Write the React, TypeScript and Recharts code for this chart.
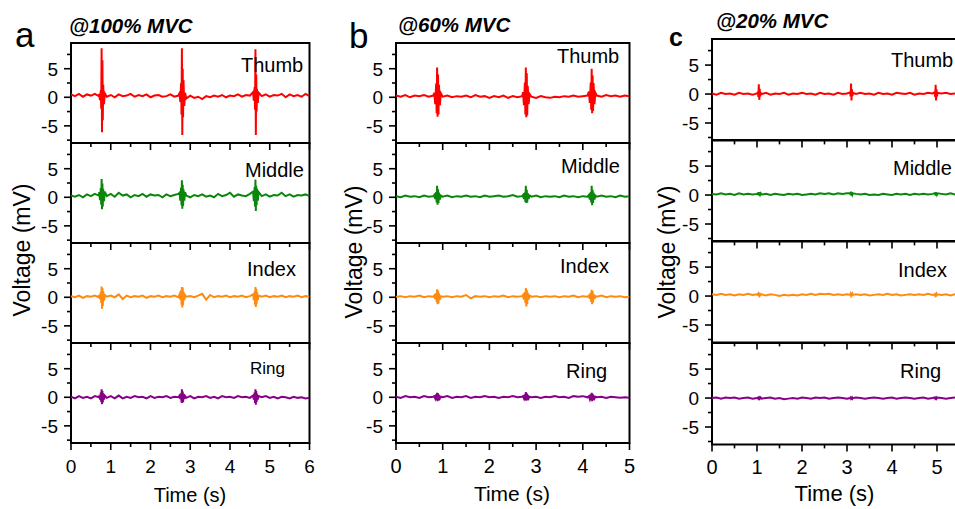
import { Line, LineChart, ReferenceArea, XAxis, YAxis } from "recharts";

// time grids (s), one per panel; denser around each contraction burst
const timeA = [
  0, 0.1, 0.2, 0.3, 0.4, 0.5, 0.6, 0.7,
  0.71, 0.73, 0.75, 0.76, 0.77, 0.78, 0.79, 0.8, 0.81, 0.83, 0.85,
  0.9, 1.0, 1.1, 1.2, 1.3, 1.4, 1.5, 1.6, 1.7, 1.8, 1.9, 2.0, 2.1, 2.2, 2.3, 2.4, 2.5, 2.6, 2.7,
  2.73, 2.75, 2.77, 2.78, 2.79, 2.8, 2.81, 2.82, 2.83, 2.85, 2.87,
  2.9, 3.0, 3.1, 3.2, 3.3, 3.4, 3.5, 3.6, 3.7, 3.8, 3.9, 4.0, 4.1, 4.2, 4.3, 4.4, 4.5,
  4.58, 4.6, 4.62, 4.63, 4.64, 4.65, 4.66, 4.67, 4.68, 4.7, 4.72,
  4.8, 4.9, 5.0, 5.1, 5.2, 5.3, 5.4, 5.5, 5.6, 5.7, 5.8, 5.9, 6.0
];
const timeB = [
  0, 0.1, 0.2, 0.3, 0.4, 0.5, 0.6, 0.7, 0.8,
  0.82, 0.84, 0.86, 0.87, 0.88, 0.89, 0.9, 0.91, 0.92, 0.94, 0.96,
  1.0, 1.1, 1.2, 1.3, 1.4, 1.5, 1.6, 1.7, 1.8, 1.9, 2.0, 2.1, 2.2, 2.3, 2.4, 2.5, 2.6, 2.7,
  2.72, 2.74, 2.76, 2.77, 2.78, 2.79, 2.8, 2.81, 2.82, 2.84, 2.86,
  2.9, 3.0, 3.1, 3.2, 3.3, 3.4, 3.5, 3.6, 3.7, 3.8, 3.9, 4.0, 4.1,
  4.13, 4.15, 4.17, 4.18, 4.19, 4.2, 4.21, 4.22, 4.23, 4.25, 4.27,
  4.3, 4.4, 4.5, 4.6, 4.7, 4.8, 4.9, 5.0
];
const timeC = [
  0, 0.1, 0.2, 0.3, 0.4, 0.5, 0.6, 0.7, 0.8, 0.9, 1.0,
  1.02, 1.03, 1.04, 1.05, 1.06, 1.07, 1.08,
  1.1, 1.2, 1.3, 1.4, 1.5, 1.6, 1.7, 1.8, 1.9, 2.0, 2.1, 2.2, 2.3, 2.4, 2.5, 2.6, 2.7, 2.8, 2.9, 3.0,
  3.07, 3.08, 3.09, 3.1, 3.11, 3.12, 3.13,
  3.2, 3.3, 3.4, 3.5, 3.6, 3.7, 3.8, 3.9, 4.0, 4.1, 4.2, 4.3, 4.4, 4.5, 4.6, 4.7, 4.8, 4.9,
  4.95, 4.96, 4.97, 4.98, 4.99, 5.0, 5.01,
  5.1, 5.2, 5.3, 5.4, 5.5, 5.6, 5.7, 5.8, 5.9, 6.0
];

// voltages (mV) @100% MVC
const thumbA = [
  0.5, 0.2, 0.6, 0.1, 0.5, 0.3, 0.6, 0.2,
  0.6, -0.5, 1.2, -2.0, 8.6, -6.1, 6.5, -4.0, 2.2, -1.2, 0.7,
  0.1, 0.4, 0.0, 0.5, 0.2, 0.3, 0.6, 0.1, 0.4, 0.2, 0.5, 0.0, 0.3, 0.4, 0.1, 0.2, 0.5, 0.1, 0.3,
  0.7, -0.8, 2.5, -3.0, 8.6, -6.6, 5.0, -3.5, 3.0, -1.5, 0.8,
  -0.2, 0.3, -0.1, 0.1, -0.3, 0.2, 0.0, 0.3, 0.1, 0.4, 0.0, 0.3, 0.2, 0.5, 0.1, 0.4, 0.3,
  0.9, -0.6, 1.8, -2.2, 8.4, -6.6, 4.0, -2.5, 1.5, -1.0, 0.8,
  0.2, 0.5, 0.1, 0.4, 0.3, 0.6, 0.0, 0.5, 0.2, 0.4, 0.1, 0.6, 0.2
];
const middleA = [
  0.3, 0.1, 0.4, 0.0, 0.5, 0.2, 0.6, 0.3,
  0.9, -0.5, 1.6, -1.3, 3.2, -2.1, 2.4, -1.6, 1.5, -0.7, 1.0,
  0.2, 0.6, 0.1, 0.8, 0.3, 0.5, 0.0, 0.4, 0.2, 0.6, 0.1, 0.5, 0.3, 0.4, 0.0, 0.5, 0.2, 0.4, 0.6,
  0.8, -0.6, 1.7, -1.4, 3.0, -2.0, 2.2, -1.5, 1.4, -0.6, 0.9,
  0.3, 0.0, 0.4, 0.2, 0.5, 0.1, 0.3, 0.0, 0.6, 0.2, 0.4, 0.8, 0.1, 0.5, 0.3, 0.2, 0.6,
  1.0, -0.7, 1.8, -1.6, 3.1, -2.4, 2.0, -1.4, 1.5, -0.6, 0.9,
  0.2, 0.5, 0.1, 0.4, 0.3, 0.8, 0.2, 0.5, 0.1, 0.4, 0.3, 0.5, 0.2
];
const indexA = [
  0.2, 0.0, 0.3, -0.1, 0.2, 0.1, 0.3, 0.0,
  0.4, -0.3, 0.9, -1.0, 1.9, -2.0, 1.6, -1.5, 1.1, -0.6, 0.4,
  0.1, 0.3, 0.0, 0.5, -0.3, 0.3, 0.0, 0.2, 0.1, 0.3, -0.1, 0.2, 0.1, 0.3, 0.0, 0.2, 0.1, 0.3, 0.0,
  0.5, -0.4, 1.2, -1.3, 1.8, -1.8, 1.7, -1.4, 1.0, -0.5, 0.4,
  0.1, 0.2, 0.0, 0.3, 0.6, -0.4, 0.4, 0.0, 0.2, 0.1, 0.3, 0.0, 0.2, 0.1, 0.3, 0.0, 0.2,
  0.5, -0.5, 1.0, -1.3, 1.8, -1.7, 1.5, -1.2, 0.9, -0.5, 0.3,
  0.1, 0.3, 0.0, 0.2, 0.1, 0.3, 0.0, 0.2, 0.1, 0.3, 0.0, 0.2, 0.1
];
const ringA = [
  0.1, -0.2, 0.2, -0.1, 0.1, -0.2, 0.2, 0.0,
  0.3, -0.4, 0.8, -0.8, 1.4, -1.2, 1.1, -0.9, 0.7, -0.4, 0.3,
  -0.1, 0.2, -0.2, 0.3, -0.2, 0.1, -0.1, 0.2, 0.0, 0.1, -0.2, 0.2, -0.1, 0.1, 0.0, 0.2, -0.1, 0.1, 0.0,
  0.3, -0.3, 0.7, -0.9, 1.4, -1.0, 1.0, -0.8, 0.6, -0.3, 0.2,
  -0.1, 0.2, -0.2, 0.1, 0.0, 0.2, -0.1, 0.1, -0.2, 0.2, 0.0, 0.1, -0.1, 0.2, 0.0, 0.1, -0.1,
  0.3, -0.4, 0.8, -1.0, 1.4, -1.3, 1.1, -0.8, 0.6, -0.4, 0.2,
  0.0, 0.2, -0.1, 0.1, -0.2, 0.1, 0.0, -0.2, 0.1, -0.1, 0.0, -0.2, -0.1
];

// voltages (mV) @60% MVC
const thumbB = [
  0.3, 0.1, 0.4, 0.0, 0.3, 0.2, 0.4, 0.1, 0.3,
  0.8, -1.2, 2.4, -2.8, 5.2, -3.4, 4.0, -3.0, 2.2, -1.4, 0.7,
  0.1, 0.3, 0.0, 0.2, 0.1, 0.3, 0.0, 0.4, 0.1, 0.2, -0.1, 0.2, 0.0, 0.3, -0.1, 0.2, 0.0, 0.2,
  0.9, -1.4, 2.6, -3.0, 5.2, -3.5, 4.2, -3.2, 2.0, -1.2, 0.6,
  0.1, -0.1, 0.2, 0.0, -0.1, 0.1, 0.0, 0.2, 0.1, 0.3, 0.1, 0.2, 0.3,
  1.0, -1.0, 2.6, -2.2, 5.0, -2.8, 3.8, -2.4, 2.5, -1.2, 0.8,
  0.3, 0.1, 0.4, 0.2, 0.3, 0.1, 0.3, 0.2
];
const middleB = [
  0.2, 0.0, 0.3, 0.1, 0.2, 0.0, 0.3, 0.1, 0.2,
  0.4, -0.3, 0.9, -0.9, 2.0, -1.3, 1.4, -1.0, 0.8, -0.4, 0.3,
  0.1, 0.3, 0.0, 0.2, 0.1, 0.3, 0.1, 0.2, 0.0, 0.3, 0.1, 0.2, 0.3, 0.1, 0.2, 0.4, 0.1, 0.2,
  0.4, -0.3, 0.8, -0.8, 2.0, -1.0, 1.3, -0.9, 0.7, -0.3, 0.3,
  0.1, 0.3, 0.0, 0.2, 0.1, 0.2, 0.0, 0.3, 0.1, 0.2, 0.0, 0.2, 0.1,
  0.4, -0.4, 0.9, -0.9, 2.0, -1.4, 1.3, -1.0, 0.8, -0.4, 0.3,
  0.1, 0.3, 0.1, 0.2, 0.0, 0.3, 0.1, 0.2
];
const indexB = [
  0.1, 0.2, 0.0, 0.2, 0.1, 0.3, 0.0, 0.2, 0.1,
  0.3, -0.3, 0.7, -0.8, 1.4, -1.2, 1.2, -1.1, 0.7, -0.4, 0.2,
  0.1, 0.2, 0.0, 0.2, 0.1, 0.4, -0.2, 0.2, 0.1, 0.2, 0.0, 0.2, 0.1, 0.3, 0.0, 0.2, 0.1, 0.2,
  0.4, -0.4, 0.9, -1.0, 1.6, -1.6, 1.3, -1.2, 0.8, -0.4, 0.3,
  0.1, 0.2, 0.0, 0.2, 0.1, 0.2, 0.0, 0.2, 0.1, 0.3, 0.0, 0.2, 0.1,
  0.3, -0.3, 0.8, -0.8, 1.3, -1.2, 1.1, -0.9, 0.6, -0.3, 0.2,
  0.1, 0.3, 0.0, 0.2, 0.1, 0.2, 0.0, 0.1
];
const ringB = [
  0.1, -0.1, 0.2, 0.0, 0.1, -0.1, 0.2, 0.0, 0.1,
  0.2, -0.2, 0.5, -0.5, 0.8, -0.7, 0.7, -0.5, 0.4, -0.2, 0.1,
  0.0, 0.2, -0.1, 0.1, 0.0, 0.2, -0.1, 0.1, 0.0, 0.2, 0.0, 0.1, -0.1, 0.1, 0.0, 0.2, 0.0, 0.1,
  0.2, -0.2, 0.5, -0.5, 0.9, -0.6, 0.7, -0.5, 0.4, -0.2, 0.1,
  0.0, 0.1, -0.1, 0.1, 0.0, 0.2, 0.0, 0.1, -0.1, 0.2, 0.1, 0.2, 0.0,
  0.2, -0.3, 0.5, -0.5, 0.8, -0.7, 0.6, -0.5, 0.3, -0.2, 0.1,
  0.0, 0.1, -0.1, 0.1, 0.0, -0.1, 0.0, -0.1
];

// voltages (mV) @20% MVC
const thumbC = [
  0.1, -0.1, 0.2, 0.0, 0.1, -0.1, 0.2, 0.0, 0.1, -0.1, 0.1,
  0.3, -0.5, 1.7, -1.0, 0.9, -0.4, 0.2,
  0.0, 0.2, -0.1, 0.1, 0.0, 0.2, -0.1, 0.1, 0.0, 0.2, 0.0, 0.1, -0.1, 0.2, 0.0, 0.1, -0.1, 0.2, 0.0, 0.1,
  0.3, -0.4, 1.8, -1.1, 0.8, -0.3, 0.2,
  0.0, 0.2, 0.0, 0.1, -0.1, 0.2, 0.0, 0.1, -0.1, 0.2, 0.1, 0.0, 0.2, -0.1, 0.1, 0.0, 0.2, 0.1,
  0.3, -0.5, 1.6, -1.1, 0.8, -0.4, 0.2,
  0.1, 0.2, 0.0, 0.1, -0.1, 0.2, 0.0, 0.1, 0.0, 0.2
];
const middleC = [
  0.2, 0.1, 0.3, 0.1, 0.2, 0.0, 0.3, 0.1, 0.2, 0.1, 0.2,
  0.3, 0.0, 0.5, -0.1, 0.4, 0.1, 0.3,
  0.1, 0.2, 0.0, 0.2, 0.1, 0.0, 0.2, 0.1, 0.2, 0.0, 0.1, 0.2, 0.1, 0.3, 0.2, 0.3, 0.1, 0.3, 0.2, 0.3,
  0.3, 0.0, 0.6, -0.1, 0.5, 0.1, 0.3,
  0.2, 0.1, 0.2, 0.0, 0.1, 0.0, 0.2, 0.1, 0.0, 0.2, 0.1, 0.2, 0.0, 0.2, 0.1, 0.2, 0.1, 0.2,
  0.3, 0.0, 0.5, -0.1, 0.4, 0.1, 0.3,
  0.2, 0.1, 0.3, 0.1, 0.2, 0.1, 0.3, 0.2, 0.1, 0.2
];
const indexC = [
  0.3, 0.2, 0.4, 0.2, 0.3, 0.1, 0.3, 0.2, 0.4, 0.2, 0.3,
  0.2, 0.4, 0.2, 0.3, 0.1, 0.3, 0.2,
  0.3, 0.1, 0.3, 0.2, 0.0, 0.2, 0.1, 0.2, 0.1, 0.3, 0.2, 0.4, 0.2, 0.4, 0.3, 0.4, 0.2, 0.3, 0.2, 0.3,
  0.2, 0.4, 0.1, 0.3, 0.2, 0.4, 0.2,
  0.3, 0.2, 0.3, 0.1, 0.2, 0.3, 0.2, 0.4, 0.2, 0.3, 0.1, 0.2, 0.3, 0.2, 0.3, 0.2, 0.4, 0.2,
  0.3, 0.1, 0.3, 0.2, 0.4, 0.2, 0.3,
  0.2, 0.3, 0.1, 0.3, 0.2, 0.3, 0.1, 0.2, 0.3, 0.2
];
const ringC = [
  0.0, 0.1, -0.1, 0.1, 0.0, 0.1, -0.1, 0.0, 0.1, -0.1, 0.0,
  0.1, -0.1, 0.0, 0.1, -0.1, 0.0, 0.1,
  -0.1, 0.0, 0.1, -0.1, 0.0, -0.2, -0.1, 0.0, -0.1, 0.1, 0.0, -0.1, 0.1, 0.0, 0.1, -0.1, 0.0, 0.1, 0.0, -0.1,
  0.0, 0.1, -0.1, 0.0, 0.1, -0.1, 0.0,
  0.1, 0.0, -0.1, 0.0, 0.1, 0.0, -0.1, 0.0, 0.1, -0.1, 0.0, 0.1, 0.0, -0.1, 0.0, 0.1, -0.1, 0.0,
  0.1, -0.1, 0.0, 0.1, -0.1, 0.0, 0.1,
  0.0, -0.1, 0.0, 0.1, -0.1, 0.0, -0.1, 0.0, -0.1, -0.2
];

const fingers = ["Thumb", "Middle", "Index", "Ring"];
const fingerColors = ["#ff0000", "#0a870a", "#ff8a10", "#880088"];
const titles = ["@100% MVC", "@60% MVC", "@20% MVC"];
const letters = ["a", "b", "c"];
const yTicks = [-7.5, -5, -2.5, 0, 2.5, 5, 7.5];
const xTicksA = [0, 0.5, 1, 1.5, 2, 2.5, 3, 3.5, 4, 4.5, 5, 5.5, 6];
const xTicksB = [0, 0.5, 1, 1.5, 2, 2.5, 3, 3.5, 4, 4.5, 5];
const xTicksC = [0, 0.5, 1, 1.5, 2, 2.5, 3, 3.5, 4, 4.5, 5, 5.5];
const Y_DOMAIN: [number, number] = [-8, 9.5];

const FONT = "'Liberation Sans', Arial, sans-serif";
const Y_W = 60;
const PAD = 2;
const R_PAD = 14;

const panels = [
  {
    time: timeA, series: [thumbA, middleA, indexA, ringA], xMax: 6, xTicks: xTicksA,
    left: 71, top: 43, plotWidth: 238.5, plotHeight: 100, xTickFont: 19, timeFont: 20,
    letter: { x: 15, y: 47, size: 35, weight: 400 }, title: { x: 69, y: 32.5 },
    voltX: 29.5, voltY: 250, timeX: 190, timeY: 502,
    labels: [[241, 72.3, 20], [245, 177, 20], [247, 276, 20], [250, 374, 17]]
  },
  {
    time: timeB, series: [thumbB, middleB, indexB, ringB], xMax: 5, xTicks: xTicksB,
    left: 396, top: 43, plotWidth: 233.5, plotHeight: 100, xTickFont: 20, timeFont: 21,
    letter: { x: 349, y: 48, size: 35, weight: 400 }, title: { x: 398, y: 31.5 },
    voltX: 361.5, voltY: 252, timeX: 512, timeY: 501,
    labels: [[557, 63.3, 20], [561, 173, 20], [560, 273, 20], [566, 377.7, 20]]
  },
  {
    time: timeC, series: [thumbC, middleC, indexC, ringC], xMax: 6, xTicks: xTicksC,
    left: 712, top: 38.5, plotWidth: 270, plotHeight: 101.4, xTickFont: 20, timeFont: 22,
    letter: { x: 669, y: 46, size: 25, weight: 700 }, title: { x: 716, y: 28 },
    voltX: 674.5, voltY: 252, timeX: 834.5, timeY: 501,
    labels: [[891, 66.5, 20], [893, 175, 20], [898, 276.5, 20], [900, 378, 20]]
  }
];

function XTick(props: any) {
  const { x, y, payload, showLabel, fontSize } = props;
  const v = payload.value as number;
  const major = Number.isInteger(v);
  return (
    <g>
      <line x1={x} y1={y} x2={x} y2={y + (major ? 7 : 4)} stroke="#000" strokeWidth={1.6} />
      {showLabel && major ? (
        <text x={x} y={y + 30} textAnchor="middle" fontSize={fontSize} fontFamily={FONT} fill="#000">
          {v}
        </text>
      ) : null}
    </g>
  );
}

function YTick(props: any) {
  const { x, y, payload } = props;
  const v = payload.value as number;
  const major = v % 5 === 0;
  return (
    <g>
      <line x1={x - (major ? 7 : 4)} y1={y} x2={x} y2={y} stroke="#000" strokeWidth={1.6} />
      {major ? (
        <text x={x - 13} y={y} dy="0.36em" textAnchor="end" fontSize={19} fontFamily={FONT} fill="#000">
          {v}
        </text>
      ) : null}
    </g>
  );
}

type SubplotProps = {
  time: number[];
  values: number[];
  color: string;
  left: number;
  top: number;
  plotWidth: number;
  plotHeight: number;
  xMax: number;
  xTicks: number[];
  showLabels: boolean;
  xTickFont: number;
};

function Subplot({ time, values, color, left, top, plotWidth, plotHeight, xMax, xTicks, showLabels, xTickFont }: SubplotProps) {
  const data = time.map((t, i) => ({ t, v: values[i] }));
  const axisH = showLabels ? 40 : 10;
  return (
    <div style={{ position: "absolute", left: left - Y_W, top: top - PAD }}>
      <LineChart
        width={Y_W + plotWidth + R_PAD}
        height={PAD + plotHeight + axisH}
        data={data}
        margin={{ top: PAD, right: R_PAD, bottom: 0, left: 0 }}
      >
        <XAxis
          dataKey="t"
          type="number"
          domain={[0, xMax]}
          ticks={xTicks}
          interval={0}
          height={axisH}
          axisLine={false}
          tickLine={false}
          tickSize={0}
          tickMargin={0}
          allowDataOverflow
          tick={(p: any) => <XTick {...p} showLabel={showLabels} fontSize={xTickFont} />}
        />
        <YAxis
          type="number"
          domain={Y_DOMAIN}
          ticks={yTicks}
          interval={0}
          width={Y_W}
          axisLine={false}
          tickLine={false}
          tickSize={0}
          tickMargin={0}
          allowDataOverflow
          tick={(p: any) => <YTick {...p} />}
        />
        <ReferenceArea x1={0} x2={xMax} y1={Y_DOMAIN[0]} y2={Y_DOMAIN[1]} fill="none" fillOpacity={0} stroke="#000" strokeWidth={2} />
        <Line dataKey="v" stroke={color} strokeWidth={2} dot={false} isAnimationActive={false} />
      </LineChart>
    </div>
  );
}

export default function App() {
  return (
    <div
      style={{
        position: "absolute",
        left: 0,
        top: 0,
        width: 955,
        height: 509,
        overflow: "hidden",
        background: "#fff",
        fontFamily: FONT
      }}
    >
      {panels.map((p, pi) =>
        p.series.map((values, si) => (
          <Subplot
            key={`${pi}-${si}`}
            time={p.time}
            values={values}
            color={fingerColors[si]}
            left={p.left}
            top={p.top + si * p.plotHeight}
            plotWidth={p.plotWidth}
            plotHeight={p.plotHeight}
            xMax={p.xMax}
            xTicks={p.xTicks}
            showLabels={si === 3}
            xTickFont={p.xTickFont}
          />
        ))
      )}
      <svg width={955} height={509} style={{ position: "absolute", left: 0, top: 0, pointerEvents: "none" }}>
        {panels.map((p, pi) => (
          <g key={pi} fontFamily={FONT} fill="#000">
            <text x={p.letter.x} y={p.letter.y} fontSize={p.letter.size} fontWeight={p.letter.weight}>
              {letters[pi]}
            </text>
            <text x={p.title.x} y={p.title.y} fontSize={20.5} fontWeight={700} fontStyle="italic">
              {titles[pi]}
            </text>
            {p.labels.map(([lx, ly, fs], li) => (
              <text key={li} x={lx} y={ly} fontSize={fs}>
                {fingers[li]}
              </text>
            ))}
            <text
              x={p.voltX}
              y={p.voltY}
              fontSize={23}
              textAnchor="middle"
              transform={`rotate(-90 ${p.voltX} ${p.voltY})`}
            >
              Voltage (mV)
            </text>
            <text x={p.timeX} y={p.timeY} fontSize={p.timeFont} textAnchor="middle">
              Time (s)
            </text>
          </g>
        ))}
      </svg>
    </div>
  );
}
